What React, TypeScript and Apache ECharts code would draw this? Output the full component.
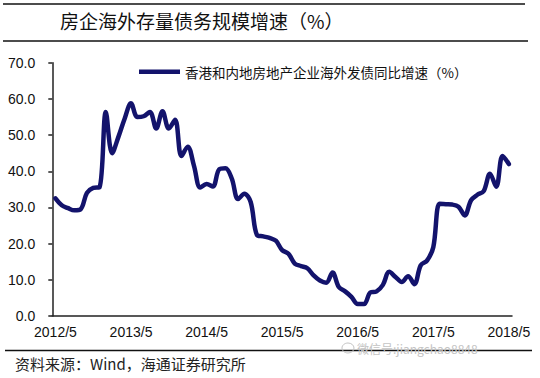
import React, { useEffect, useRef } from "react";
import * as echarts from "echarts";

const startYear = 2012;
const startMonth = 5;
const monthCount = 73;
const categories: string[] = [];
for (let i = 0; i < monthCount; i++) {
  const m = startMonth - 1 + i;
  categories.push(`${startYear + Math.floor(m / 12)}/${(m % 12) + 1}`);
}

const seriesName = "香港和内地房地产企业海外发债同比增速（%）";
const growth: number[] = [
  32.5, 30.6, 29.8, 29.2, 29.5, 34.0, 35.4, 35.6, 56.4, 45.0,
  49.5, 54.6, 58.8, 55.0, 55.2, 56.4, 51.8, 56.6, 51.8, 54.2,
  44.2, 46.8, 41.5, 35.5, 36.5, 35.8, 40.5, 40.8, 38.0, 32.3,
  33.8, 31.5, 22.4, 22.0, 21.6, 20.8, 18.2, 17.2, 14.5, 13.8,
  13.2, 11.2, 9.8, 9.2, 12.0, 8.0, 6.8, 5.3, 3.3, 3.3,
  6.5, 6.8, 8.6, 12.2, 10.8, 9.4, 11.0, 8.8, 14.0, 15.3,
  19.0, 31.0, 30.9, 30.8, 30.2, 27.8, 32.0, 33.5, 34.5, 39.3,
  35.7, 44.2, 42.0,
];

const title = "房企海外存量债务规模增速（%）";
const source = "资料来源：Wind，海通证券研究所";
const watermark = "微信号:jiangchao8848";

export default function App() {
  const ref = useRef<HTMLDivElement>(null);
  useEffect(() => {
    if (!ref.current) return;
    const chart = echarts.init(ref.current, null, { renderer: "svg" });
    const lineColor = "#13136c";
    chart.setOption({
      animation: false,
      backgroundColor: "#ffffff",
      grid: { left: 52.3, right: 28, top: 62.7, bottom: 62 },
      legend: {
        data: [{ name: seriesName, icon: "rect" }],
        left: 134,
        top: 60,
        itemWidth: 41,
        itemHeight: 4.5,
        itemGap: 6,
        textStyle: {
          fontFamily: "Noto Sans CJK SC",
          fontSize: 13.5,
          color: "#111",
        },
      },
      xAxis: {
        type: "category",
        data: categories,
        boundaryGap: true,
        axisLine: { lineStyle: { color: "#222", width: 1.5 } },
        axisTick: { interval: 11, length: 4, lineStyle: { color: "#222", width: 1.5 } },
        axisLabel: {
          interval: 11,
          margin: 9,
          fontFamily: "Liberation Sans",
          fontSize: 14,
          lineHeight: 14,
          color: "#111",
        },
        splitLine: { show: false },
      },
      yAxis: {
        type: "value",
        min: 0,
        max: 70,
        interval: 10,
        axisLine: { show: true, lineStyle: { color: "#222", width: 1.5 } },
        axisTick: { show: true, length: 4, lineStyle: { color: "#222", width: 1.5 } },
        axisLabel: {
          margin: 17,
          fontFamily: "Liberation Sans",
          fontSize: 14,
          color: "#111",
          formatter: (v: number) => v.toFixed(1),
        },
        splitLine: { show: false },
      },
      series: [
        {
          name: seriesName,
          type: "line",
          data: growth,
          smooth: 0.35,
          showSymbol: false,
          symbol: "none",
          itemStyle: { color: lineColor },
          lineStyle: { color: lineColor, width: 4.5, cap: "round", join: "round" },
        },
      ],
      graphic: [
        { type: "line", shape: { x1: 3, y1: 4, x2: 525, y2: 4 }, style: { stroke: "#111", lineWidth: 1.5 } },
        { type: "line", shape: { x1: 3, y1: 41, x2: 528, y2: 41 }, style: { stroke: "#111", lineWidth: 1.5 } },
        { type: "line", shape: { x1: 5, y1: 350.5, x2: 532, y2: 350.5 }, style: { stroke: "#111", lineWidth: 1.5 } },
        {
          type: "text",
          left: 60,
          top: 11,
          style: {
            text: title,
            font: "19px 'Noto Sans CJK SC'",
            fill: "#111",
          },
        },
        {
          type: "text",
          left: 15,
          top: 356,
          style: {
            text: source,
            font: "15px 'Noto Sans CJK SC'",
            fill: "#222",
          },
        },
        {
          type: "text",
          left: 357,
          top: 342,
          style: {
            text: watermark,
            font: "12px 'Noto Sans CJK SC'",
            fill: "#c4c4c4",
          },
        },
        {
          type: "ellipse",
          shape: { cx: 348, cy: 348, rx: 6, ry: 5 },
          style: { fill: "none", stroke: "#c4c4c4", lineWidth: 1 },
        },
      ],
    });
    return () => chart.dispose();
  }, []);
  return (
    <div
      ref={ref}
      style={{ position: "fixed", left: 0, top: 0, width: 540, height: 378 }}
    />
  );
}
